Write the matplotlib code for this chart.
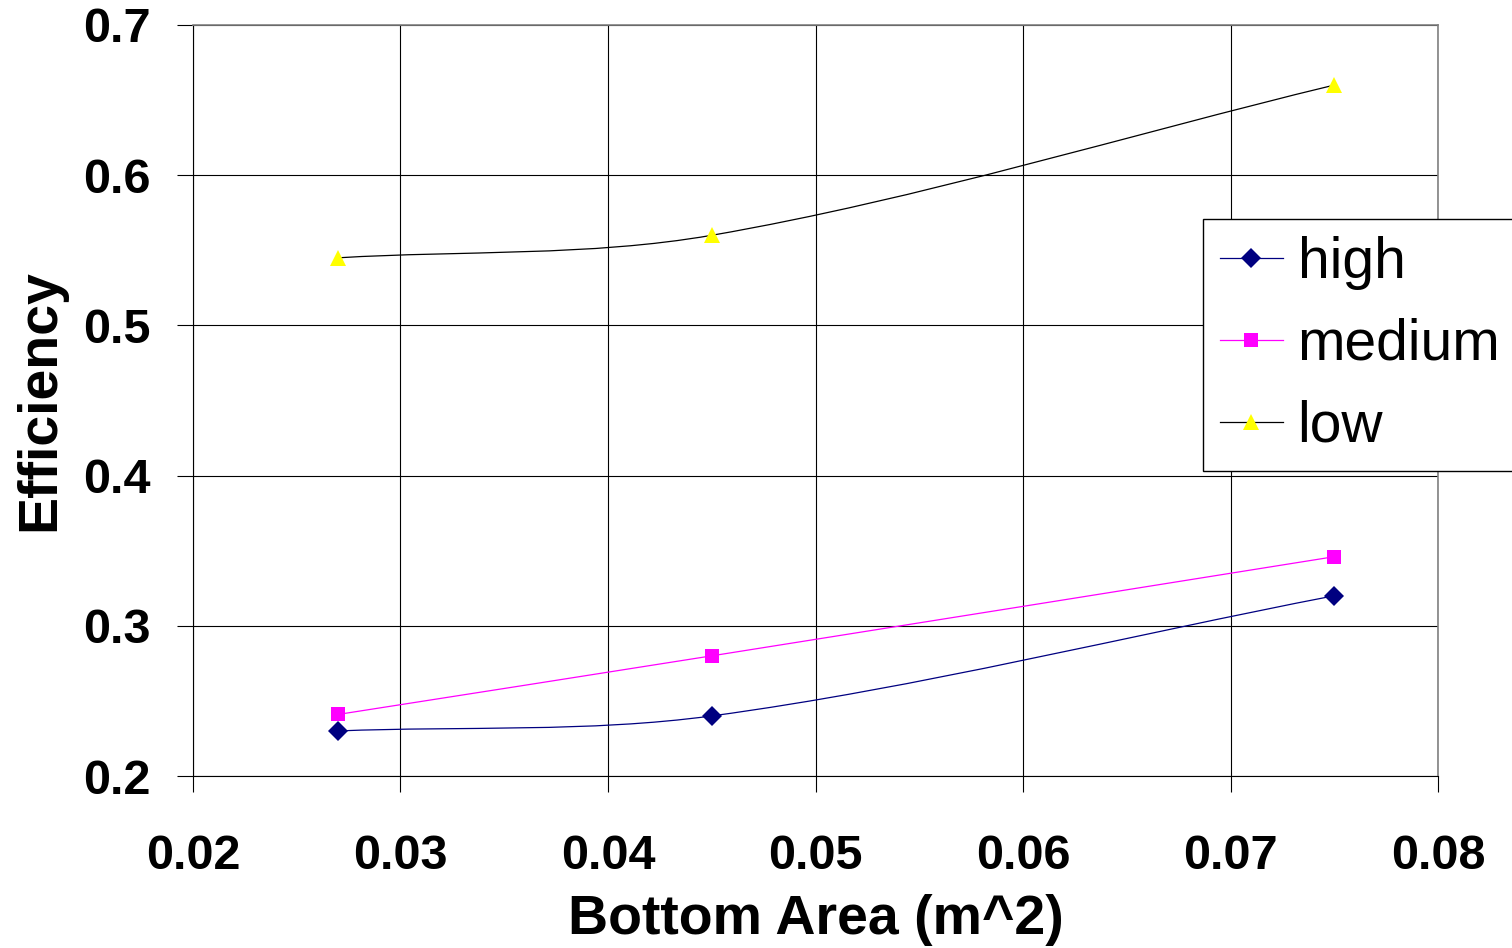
import numpy as np
import matplotlib.pyplot as plt
from matplotlib.path import Path
from matplotlib.patches import PathPatch

# bottom area (m^2) and efficiency per setting
area = [0.027, 0.045, 0.075]
high = [0.230, 0.240, 0.320]
medium = [0.241, 0.280, 0.346]
low = [0.545, 0.560, 0.660]

plt.rcParams['font.family'] = ['Liberation Sans', 'DejaVu Sans']

fig = plt.figure(figsize=(15.12, 9.48), dpi=100)
ax = fig.add_axes([193/1512, 1 - 776/948, 1245/1512, 751/948])
ax.set_xlim(0.02, 0.08)
ax.set_ylim(0.2, 0.7)


def smooth_path(xs, ys, sx, sy):
    # Excel style smoothed line: cubic bezier through the points
    p = np.column_stack([xs, ys]).astype(float)
    scale = np.array([sx, sy])
    n = len(p)
    verts = [p[0]]
    codes = [Path.MOVETO]
    for i in range(n - 1):
        d = np.linalg.norm((p[i + 1] - p[i]) * scale)
        if i == 0:
            t0 = (p[i + 1] - p[i]) / 3
        else:
            dp = np.linalg.norm((p[i] - p[i - 1]) * scale)
            t0 = (p[i + 1] - p[i - 1]) * d / (d + dp) / 3
        if i == n - 2:
            t1 = (p[i + 1] - p[i]) / 3
        else:
            dn = np.linalg.norm((p[i + 2] - p[i + 1]) * scale)
            t1 = (p[i + 2] - p[i]) * d / (d + dn) / 3
        verts += [p[i] + t0, p[i + 1] - t1, p[i + 1]]
        codes += [Path.CURVE4] * 3
    return Path(verts, codes)


sx = 1245 / 0.06
sy = 751 / 0.5
series = [
    ('high', high, '#000080', 'D', '#000080', 10),
    ('medium', medium, '#FF00FF', 's', '#FF00FF', 10),
    ('low', low, '#000000', '^', '#FFFF00', 12),
]
for name, vals, lc, mk, mc, ms in series:
    ax.add_patch(PathPatch(smooth_path(area, vals, sx, sy), fill=False,
                           edgecolor=lc, lw=0.9, zorder=3))
    ax.plot(area, vals, linestyle='none', marker=mk, color=mc,
            markersize=ms, markeredgewidth=0, zorder=4)
    # legend proxy
    ax.plot([], [], color=lc, lw=0.9, marker=mk, markerfacecolor=mc,
            markeredgewidth=0, markersize=ms, label=name)

ax.set_xticks([0.02, 0.03, 0.04, 0.05, 0.06, 0.07, 0.08])
ax.set_yticks([0.2, 0.3, 0.4, 0.5, 0.6, 0.7])
ax.set_xticklabels(['0.02', '0.03', '0.04', '0.05', '0.06', '0.07', '0.08'])
ax.set_yticklabels(['0.2', '0.3', '0.4', '0.5', '0.6', '0.7'])
ax.grid(True, color='black', lw=0.8)
ax.tick_params(direction='out', length=11.5, width=0.8, labelsize=35,
               colors='black')
ax.tick_params(axis='y', pad=19)
ax.tick_params(axis='x', pad=30)
for lab in ax.get_xticklabels() + ax.get_yticklabels():
    lab.set_fontweight('bold')

for s in ['left', 'bottom']:
    ax.spines[s].set_color('black')
    ax.spines[s].set_linewidth(0.8)
for s in ['top', 'right']:
    ax.spines[s].set_color('#808080')
    ax.spines[s].set_linewidth(1.2)

ax.set_xlabel('Bottom Area (m^2)', fontsize=40, fontweight='bold', labelpad=11)
ax.set_ylabel('Efficiency', fontsize=40, fontweight='bold', labelpad=12)

leg = ax.legend(loc='upper left', bbox_to_anchor=(1203/1512, 1 - 219/948),
                bbox_transform=fig.transFigure, borderaxespad=0,
                fontsize=41, frameon=True, fancybox=False, framealpha=1,
                edgecolor='black', handlelength=1.1, handletextpad=0.26,
                labelspacing=0.49, borderpad=0.3)
leg.get_frame().set_linewidth(1.0)

fig.savefig('out.png', dpi=100)
